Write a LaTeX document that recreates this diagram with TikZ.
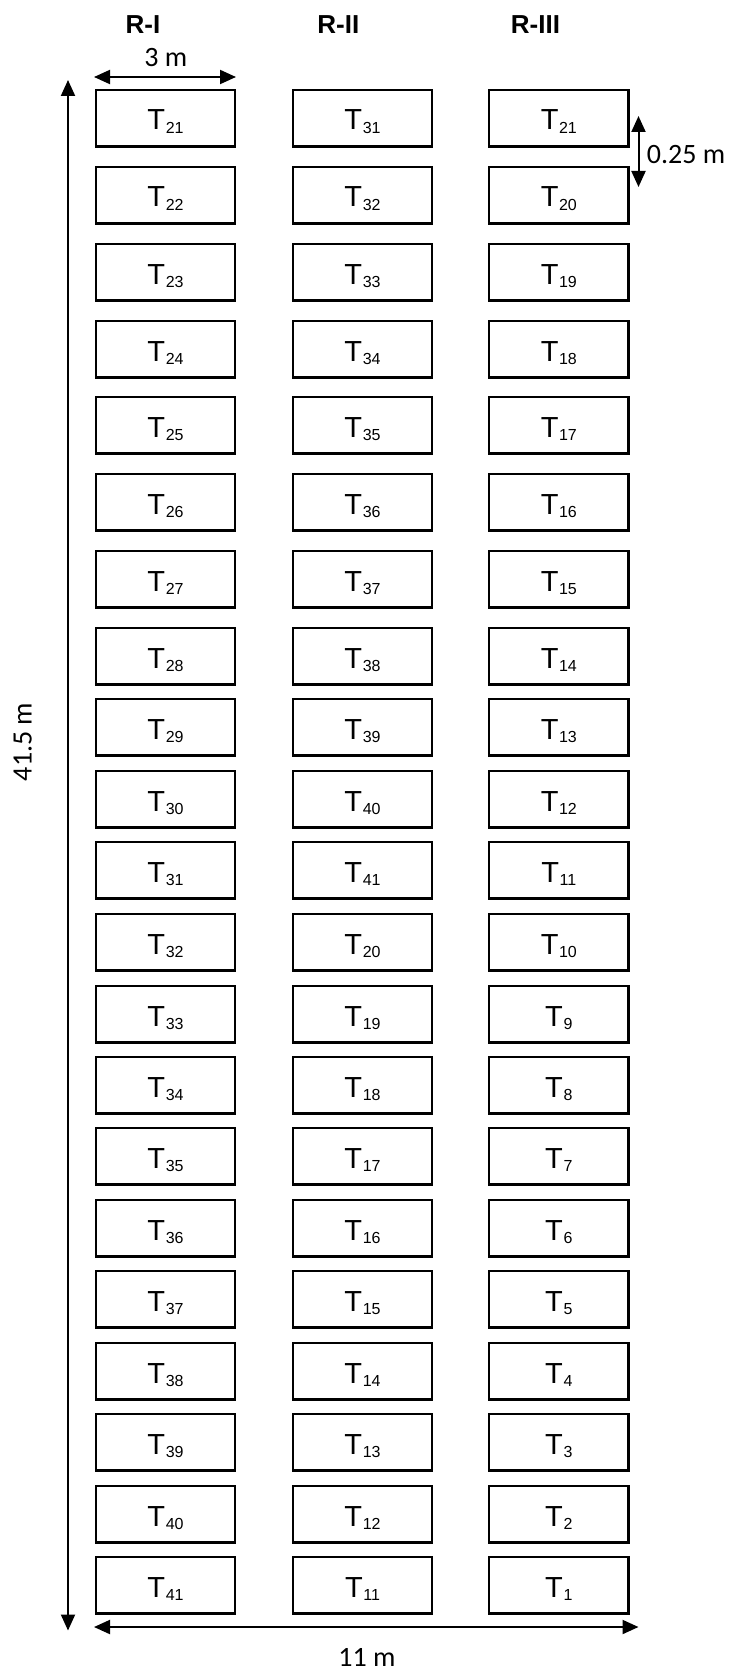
\documentclass[tikz,border=0pt]{standalone}
\usepackage{fontspec}
\setmainfont{Liberation Sans}
\newfontfamily\calfont{Carlito}
\usetikzlibrary{arrows.meta}
\newcommand\tlab[1]{T\kern0.6pt\raisebox{-3.3pt}{\fontsize{16}{16}\selectfont#1}}
\begin{document}
\begin{tikzpicture}[x=1pt,y=-1pt,
  plotbox/.style={draw=black, line width=2.2pt, rectangle, minimum width=139.5pt,
    minimum height=56.5pt, inner sep=0pt, text height=25pt, text depth=1.5pt,
    font=\fontsize{29}{29}\selectfont},
  dim/.style={line width=2pt, {Triangle[length=16pt,width=14pt]}-{Triangle[length=16pt,width=14pt]}},
  lab/.style={font=\calfont\fontsize{28}{28}\selectfont, inner sep=0pt},
  head/.style={font=\bfseries\fontsize{26}{26}\selectfont, inner sep=0pt, anchor=base}]
\useasboundingbox (0,0) rectangle (732,1672);
% column headers
\node[head] (h1) at (143,33.3) {R-I};
\node[head] (h2) at (338.3,33.3) {R-II};
\node[head] (h3) at (535.5,33.3) {R-III};
% plot boxes
\foreach \i/\y/\a/\b/\c in {1/90/21/31/21, 2/167/22/32/20, 3/244/23/33/19, 4/321/24/34/18,
  5/397/25/35/17, 6/474/26/36/16, 7/551/27/37/15, 8/628/28/38/14, 9/699/29/39/13,
  10/771/30/40/12, 11/842/31/41/11, 12/914/32/20/10, 13/986/33/19/9, 14/1057/34/18/8,
  15/1128/35/17/7, 16/1200/36/16/6, 17/1271/37/15/5, 18/1343/38/14/4, 19/1414/39/13/3,
  20/1486/40/12/2, 21/1557/41/11/1}{
  \node[plotbox] (a\i) at (165.5,\y+28.25) {\tlab{\a}};
  \node[plotbox] (b\i) at (362.5,\y+28.25) {\tlab{\b}};
  \node[plotbox] (c\i) at (558.8,\y+28.25) {\tlab{\c}};
}
% dimension arrows
\coordinate (wl) at (94,77);
\coordinate (wr) at (236,77);
\draw[dim] (wl) -- (wr);
\node[lab, anchor=base] (wlab) at (165.8,66.7) {3 m};
\coordinate (vt) at (68,80);
\coordinate (vb) at (68,1630.5);
\draw[dim] (vt) -- (vb);
\node[lab, anchor=base, rotate=90] (vlab) at (31.7,742) {41.5 m};
\coordinate (gt) at (638.5,116);
\coordinate (gb) at (638.5,187);
\draw[dim] (gt) -- (gb);
\node[lab, anchor=base west] (glab) at (646.7,163.3) {0.25 m};
\coordinate (hl) at (94,1627);
\coordinate (hr) at (638.5,1627);
\draw[dim] (hl) -- (hr);
\node[lab, anchor=base] (hlab) at (367,1666) {11 m};
\end{tikzpicture}
\end{document}
